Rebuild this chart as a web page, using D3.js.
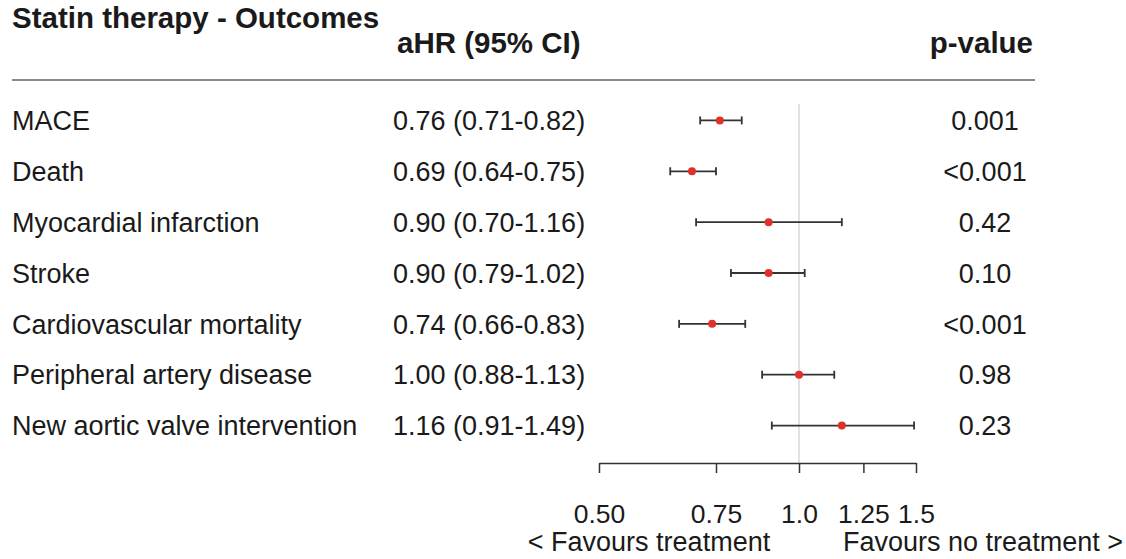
<!DOCTYPE html>
<html lang="en">
<head>
<meta charset="UTF-8">
<title>Statin therapy - Outcomes</title>
<script src="https://d3js.org/d3.v7.min.js"></script>
<style>
    body { margin: 0; background: #fff; font-family: "Liberation Sans", Arial, sans-serif; }
    text { fill: #1a1a1a; }
    .hdr { font-weight: bold; font-size: 29.5px; }
    .cell { font-size: 27px; }
</style>
</head>
<body>
<div id="chart"></div>
<script>
const outcomes = ["MACE", "Death", "Myocardial infarction", "Stroke",
    "Cardiovascular mortality", "Peripheral artery disease", "New aortic valve intervention"];
const hr = [0.76, 0.69, 0.90, 0.90, 0.74, 1.00, 1.16];
const lower = [0.71, 0.64, 0.70, 0.79, 0.66, 0.88, 0.91];
const upper = [0.82, 0.75, 1.16, 1.02, 0.83, 1.13, 1.49];
const pvals = ["0.001", "<0.001", "0.42", "0.10", "<0.001", "0.98", "0.23"];
const tickVals = [0.5, 0.75, 1.0, 1.25, 1.5];
const tickLabels = ["0.50", "0.75", "1.0", "1.25", "1.5"];

const width = 1126, height = 559;
const rows = outcomes.map((d, i) => ({ name: d, hr: hr[i], lo: lower[i], hi: upper[i], p: pvals[i] }));

const svg = d3.select("#chart").append("svg")
    .attr("width", width).attr("height", height);

const x = d3.scaleLog().domain([0.5, 1.5]).range([599, 916]);
const y = d3.scaleBand().domain(outcomes).range([95, 451]);
const cy = d => y(d) + y.bandwidth() / 2;

// headings
svg.append("text").attr("class", "hdr").attr("x", 12).attr("y", 28).text("Statin therapy - Outcomes");
svg.append("text").attr("class", "hdr").attr("x", 397).attr("y", 53).text("aHR (95% CI)");
svg.append("text").attr("class", "hdr").attr("x", 1033).attr("y", 53)
    .attr("text-anchor", "end").text("p-value");
svg.append("line").attr("x1", 12).attr("x2", 1035).attr("y1", 80).attr("y2", 80)
    .attr("stroke", "#8a8a8a").attr("stroke-width", 2);

// reference line at 1
svg.append("line").attr("x1", x(1)).attr("x2", x(1)).attr("y1", 104).attr("y2", 463)
    .attr("stroke", "#d9d9d9").attr("stroke-width", 1.5);

// text columns
svg.selectAll(".name").data(rows).join("text")
    .attr("class", "cell").attr("x", 12).attr("y", d => cy(d.name)).attr("dy", "0.36em")
    .text(d => d.name);
svg.selectAll(".ci").data(rows).join("text")
    .attr("class", "cell").attr("x", 393).attr("y", d => cy(d.name)).attr("dy", "0.36em")
    .text(d => `${d.hr.toFixed(2)} (${d.lo.toFixed(2)}-${d.hi.toFixed(2)})`);
svg.selectAll(".pv").data(rows).join("text")
    .attr("class", "cell").attr("x", 985).attr("y", d => cy(d.name)).attr("dy", "0.36em")
    .attr("text-anchor", "middle").text(d => d.p);

// CI bars
const g = svg.append("g");
g.selectAll(".bar").data(rows).join("line")
    .attr("x1", d => x(d.lo)).attr("x2", d => x(d.hi))
    .attr("y1", d => cy(d.name)).attr("y2", d => cy(d.name))
    .attr("stroke", "#333").attr("stroke-width", 1.8);
["lo", "hi"].forEach(k => {
    g.selectAll(".cap-" + k).data(rows).join("line")
        .attr("x1", d => x(d[k])).attr("x2", d => x(d[k]))
        .attr("y1", d => cy(d.name) - 4).attr("y2", d => cy(d.name) + 4)
        .attr("stroke", "#333").attr("stroke-width", 1.8);
});
g.selectAll(".pt").data(rows).join("circle")
    .attr("cx", d => x(d.hr)).attr("cy", d => cy(d.name)).attr("r", 4)
    .attr("fill", "#e0302b");

// x axis
const axis = svg.append("g").attr("transform", "translate(0,463)")
    .call(d3.axisBottom(x).tickValues(tickVals).tickFormat((d, i) => tickLabels[i])
        .tickSize(10).tickSizeOuter(0));
axis.select(".domain").attr("stroke", "#333").attr("stroke-width", 1.5);
axis.selectAll(".tick line").attr("stroke", "#333").attr("stroke-width", 1.5);
axis.selectAll(".tick text").attr("font-size", 26.5).attr("font-family", "Liberation Sans, Arial, sans-serif")
    .attr("fill", "#1a1a1a").attr("y", 60).attr("dy", 0);

svg.append("text").attr("class", "cell").attr("x", 649).attr("y", 551)
    .attr("text-anchor", "middle").text("< Favours treatment");
svg.append("text").attr("class", "cell").attr("x", 983).attr("y", 551)
    .attr("text-anchor", "middle").text("Favours no treatment >");
</script>
</body>
</html>
